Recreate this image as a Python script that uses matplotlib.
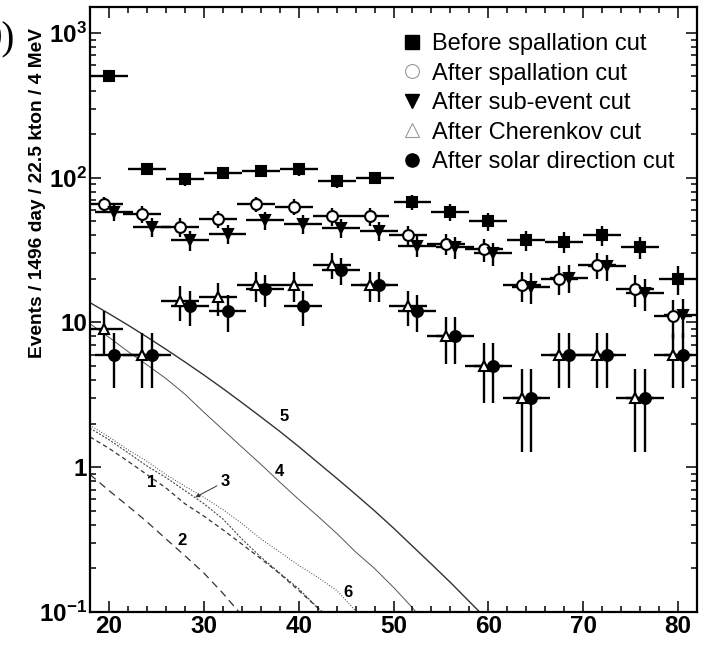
import numpy as np
import matplotlib
matplotlib.use("Agg")
import matplotlib.pyplot as plt
from matplotlib.lines import Line2D
from matplotlib.ticker import LogLocator, NullFormatter

plt.rcParams['font.family'] = ['Liberation Sans', 'DejaVu Sans']
plt.rcParams['mathtext.fontset'] = 'custom'
plt.rcParams['mathtext.rm'] = 'Liberation Sans:bold'
plt.rcParams['mathtext.it'] = 'Liberation Sans:bold'
plt.rcParams['mathtext.bf'] = 'Liberation Sans:bold'
plt.rcParams['mathtext.default'] = 'rm'

# energy bin centres (MeV), 4 MeV wide
energy = [20, 24, 28, 32, 36, 40, 44, 48, 52, 56, 60, 64, 68, 72, 76, 80]

before_spallation = [505, 115, 98, 108, 112, 114, 95, 100, 68, 58, 50, 37, 36, 40, 33, 20]
after_spallation = [66, 56, 46, 52, 66, 63, 54, 54, 40, 35, 32, 18, 20, 25, 17, 11]
after_subevent = [58, 46, 37, 41, 51, 48, 45, 43, 34, 33, 30, 17.7, 20.4, 24.4, 16, 11.2]
after_cherenkov = [9, 6, 14, 15, 18, 18, 25, 18, 13, 8, 5, 3, 6, 6, 3, 6]
after_solar = [6, 6, 13, 12, 17, 13, 23, 18, 12, 8, 5, 3, 6, 6, 3, 6]

# background / model curves
c5_x = [18, 20, 22, 24, 26, 28, 30, 32, 34, 36, 38, 40, 42, 44, 46, 48, 50, 52, 54, 56, 58, 60]
c5_y = [13.7, 11.5, 9.59, 7.94, 6.53, 5.34, 4.34, 3.50, 2.80, 2.23, 1.77, 1.39, 1.08,
        0.84, 0.65, 0.50, 0.38, 0.285, 0.214, 0.160, 0.118, 0.087]
c4_x = [18, 20, 22, 24, 26, 28, 30, 32, 34, 36, 38, 40, 42, 44, 46, 48, 50, 52, 53]
c4_y = [9.8, 7.9, 6.3, 5.1, 4.1, 3.2, 2.4, 1.82, 1.38, 1.05, 0.79, 0.60, 0.46, 0.35,
        0.26, 0.20, 0.148, 0.107, 0.089]
c2_x = [18, 20, 22, 24, 26, 28, 30, 32, 34]
c2_y = [0.89, 0.69, 0.54, 0.42, 0.32, 0.245, 0.186, 0.135, 0.095]
c1_x = [18, 20, 22, 24, 26, 28, 30, 32, 34, 36, 38, 40, 42, 42.5]
c1_y = [1.62, 1.35, 1.10, 0.89, 0.72, 0.56, 0.46, 0.37, 0.295, 0.234, 0.184, 0.141, 0.107, 0.1]
c3_x = [18, 20, 22, 24, 26, 28, 30, 32, 34, 36, 38, 40, 42, 42.5]
c3_y = [1.86, 1.55, 1.26, 1.02, 0.85, 0.69, 0.56, 0.44, 0.32, 0.24, 0.186, 0.145, 0.107, 0.1]
c6_x = [18, 20, 22, 24, 26, 28, 30, 32, 34, 36, 38, 40, 42, 44, 46, 46.5]
c6_y = [1.95, 1.62, 1.32, 1.10, 0.89, 0.74, 0.62, 0.51, 0.41, 0.32, 0.26, 0.21, 0.174,
        0.141, 0.102, 0.093]

fig = plt.figure(figsize=(7.07, 6.46), dpi=100)
ax = fig.add_axes([90 / 707, 34 / 646, 607 / 707, 605 / 646])

x = np.array(energy, dtype=float)
dx = 0.5
series = [
    (x, before_spallation, 's', 'black', 'black'),
    (x - dx, after_spallation, 'o', 'white', 'black'),
    (x + dx, after_subevent, 'v', 'black', 'black'),
    (x - dx, after_cherenkov, '^', 'white', 'black'),
    (x + dx, after_solar, 'o', 'black', 'black'),
]
for xs, ys, m, fc, ec in series:
    ys = np.array(ys, dtype=float)
    ax.errorbar(xs, ys, xerr=2, yerr=np.sqrt(ys), fmt='none', ecolor='black',
                elinewidth=1.7, capsize=0, zorder=2)
for xs, ys, m, fc, ec in series:
    ax.plot(xs, ys, ls='none', marker=m, ms=7.8, mfc=fc, mec=ec, mew=1.5, zorder=3)

# model curves
ax.plot(c5_x, c5_y, color='#333333', lw=1.0, zorder=1)
ax.plot(c4_x, c4_y, color='#555555', lw=0.7, zorder=1)
ax.plot(c2_x, c2_y, color='#333333', lw=0.9, ls=(0, (6, 4)), zorder=1)
ax.plot(c1_x, c1_y, color='#333333', lw=0.9, ls=(0, (3.5, 2.6)), zorder=1)
ax.plot(c3_x, c3_y, color='#444444', lw=0.8, ls=(0, (1.8, 1.4)), zorder=1)
ax.plot(c6_x, c6_y, color='#444444', lw=0.8, ls=(0, (0.8, 1.6)), zorder=1)

lbl = dict(fontsize=12, fontweight='bold', ha='center', va='center')
ax.text(38.5, 2.25, '5', **lbl)
ax.text(38.0, 0.94, '4', **lbl)
ax.text(24.5, 0.79, '1', **lbl)
ax.text(27.7, 0.31, '2', **lbl)
ax.text(45.2, 0.137, '6', **lbl)
ax.annotate('3', xy=(29.1, 0.62), xytext=(32.3, 0.80),
            arrowprops=dict(arrowstyle='-|>', color='#333333', lw=0.7,
                            mutation_scale=6, shrinkA=1, shrinkB=0), **lbl)

ax.set_xlim(18, 82)
ax.set_yscale('log')
ax.set_ylim(0.1, 1510)
ax.set_xticks([20, 30, 40, 50, 60, 70, 80])
ax.set_xticks(np.arange(18, 83, 2), minor=True)
ax.set_yticks([0.1, 1, 10, 100, 1000],
              [r'$10^{-1}$', '1', '10', r'$10^{2}$', r'$10^{3}$'])
ax.yaxis.set_minor_locator(LogLocator(base=10, subs=np.arange(2, 10)))
ax.yaxis.set_minor_formatter(NullFormatter())

ax.tick_params(which='both', direction='in', top=True, right=True, width=1.1)
ax.tick_params(which='major', length=8, pad=2, labelsize=17.5)
ax.tick_params(which='minor', length=4)
for t in ax.get_xticklabels() + ax.get_yticklabels():
    t.set_fontweight('bold')
for s in ax.spines.values():
    s.set_linewidth(1.6)

ax.set_ylabel('Events / 1496 day / 22.5 kton / 4 MeV', fontsize=13.8, fontweight='bold')
ax.yaxis.set_label_coords(-0.0725, 0.693)

handles = [
    Line2D([], [], ls='none', marker='s', ms=9.5, mfc='black', mec='black'),
    Line2D([], [], ls='none', marker='o', ms=10, mfc='white', mec='#999999', mew=0.8),
    Line2D([], [], ls='none', marker='v', ms=9.5, mfc='black', mec='black'),
    Line2D([], [], ls='none', marker='^', ms=10, mfc='white', mec='#999999', mew=0.8),
    Line2D([], [], ls='none', marker='o', ms=9.5, mfc='black', mec='black'),
]
labels = ['Before spallation cut', 'After spallation cut', 'After sub-event cut',
          'After Cherenkov cut', 'After solar direction cut']
ax.legend(handles, labels, loc='upper left', bbox_to_anchor=(0.511, 0.957),
          frameon=False, fontsize=17, borderpad=0, borderaxespad=0,
          handlelength=1.0, handletextpad=0.35, labelspacing=0.32)

fig.text(15 / 707, 1 - 40 / 646, '0)', ha='right', va='center', fontsize=28,
         family='Liberation Serif')

fig.savefig('out.png', dpi=100)
